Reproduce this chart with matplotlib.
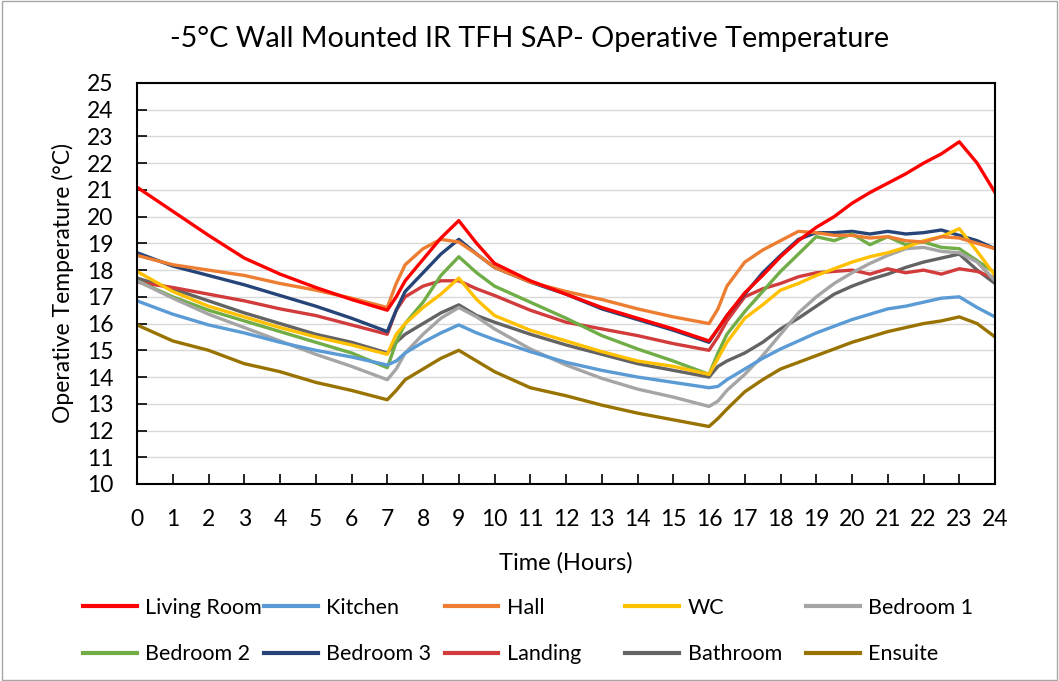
import matplotlib
matplotlib.use("Agg")
import matplotlib.pyplot as plt
from matplotlib.lines import Line2D
from matplotlib.patches import Rectangle

hours = [0, 1, 2, 3, 4, 5, 6, 7, 7.25, 7.5, 8, 8.5, 9, 9.5, 10, 11, 12, 13, 14, 15,
         16, 16.25, 16.5, 17, 17.5, 18, 18.5, 19, 19.5, 20, 20.5, 21, 21.5, 22, 22.5,
         23, 23.5, 24]

living_room = [21.1, 20.2, 19.3, 18.45, 17.85, 17.35, 16.9, 16.5, 17.0, 17.6, 18.4, 19.2,
               19.85, 19.0, 18.25, 17.6, 17.1, 16.6, 16.2, 15.8, 15.35, 15.8, 16.3, 17.15,
               17.8, 18.5, 19.1, 19.6, 20.0, 20.5, 20.9, 21.25, 21.6, 22.0, 22.35, 22.8,
               22.0, 20.9]
kitchen = [16.85, 16.35, 15.95, 15.65, 15.3, 15.0, 14.75, 14.45, 14.6, 14.9, 15.3, 15.65,
           15.95, 15.65, 15.4, 14.95, 14.55, 14.25, 14.0, 13.8, 13.6, 13.65, 13.9, 14.3,
           14.7, 15.05, 15.35, 15.65, 15.9, 16.15, 16.35, 16.55, 16.65, 16.8, 16.95, 17.0,
           16.6, 16.25]
hall = [18.55, 18.2, 18.0, 17.8, 17.5, 17.25, 16.95, 16.6, 17.5, 18.2, 18.8, 19.15,
        19.05, 18.6, 18.1, 17.55, 17.2, 16.9, 16.55, 16.25, 16.0, 16.55, 17.4, 18.3,
        18.75, 19.1, 19.45, 19.4, 19.3, 19.3, 19.2, 19.25, 19.1, 19.05, 19.25, 19.2,
        19.0, 18.8]
wc = [17.95, 17.2, 16.65, 16.25, 15.85, 15.5, 15.2, 14.85, 15.6, 16.0, 16.6, 17.1,
      17.7, 16.9, 16.3, 15.75, 15.35, 14.95, 14.6, 14.4, 14.1, 14.7, 15.3, 16.2,
      16.7, 17.25, 17.5, 17.8, 18.05, 18.3, 18.5, 18.65, 18.85, 19.1, 19.25, 19.55,
      18.7, 17.8]
bedroom_1 = [17.6, 16.95, 16.35, 15.85, 15.35, 14.85, 14.4, 13.9, 14.3, 14.9, 15.6, 16.2,
             16.6, 16.25, 15.8, 15.05, 14.45, 13.95, 13.55, 13.25, 12.9, 13.1, 13.5, 14.1,
             14.8, 15.6, 16.4, 17.0, 17.5, 17.9, 18.25, 18.55, 18.8, 18.85, 18.7, 18.65,
             18.3, 17.6]
bedroom_2 = [17.6, 17.0, 16.5, 16.1, 15.7, 15.3, 14.9, 14.35, 15.3, 16.0, 16.8, 17.8,
             18.5, 17.9, 17.4, 16.8, 16.2, 15.55, 15.05, 14.6, 14.1, 14.9, 15.6, 16.45,
             17.2, 17.95, 18.6, 19.25, 19.1, 19.35, 18.95, 19.25, 18.95, 19.05, 18.85, 18.8,
             18.35, 17.9]
bedroom_3 = [18.65, 18.15, 17.8, 17.45, 17.05, 16.65, 16.2, 15.7, 16.5, 17.2, 17.9, 18.6,
             19.15, 18.6, 18.1, 17.55, 17.1, 16.55, 16.15, 15.75, 15.3, 15.8, 16.3, 17.1,
             17.9, 18.55, 19.15, 19.4, 19.4, 19.45, 19.35, 19.45, 19.35, 19.4, 19.5, 19.3,
             19.1, 18.8]
landing = [17.55, 17.35, 17.1, 16.85, 16.55, 16.3, 15.95, 15.6, 16.5, 17.0, 17.4, 17.6,
           17.6, 17.3, 17.05, 16.5, 16.05, 15.8, 15.55, 15.25, 15.0, 15.5, 16.1, 17.0,
           17.3, 17.5, 17.75, 17.9, 17.95, 18.0, 17.85, 18.05, 17.9, 18.0, 17.85, 18.05,
           17.95, 17.7]
bathroom = [17.7, 17.3, 16.85, 16.4, 16.0, 15.6, 15.3, 14.9, 15.3, 15.6, 16.0, 16.4,
            16.7, 16.3, 16.05, 15.6, 15.2, 14.85, 14.5, 14.25, 14.0, 14.4, 14.6, 14.9,
            15.3, 15.8, 16.2, 16.65, 17.1, 17.4, 17.65, 17.85, 18.1, 18.3, 18.45, 18.6,
            18.0, 17.5]
ensuite = [15.95, 15.35, 15.0, 14.5, 14.2, 13.8, 13.5, 13.15, 13.5, 13.9, 14.3, 14.7,
           15.0, 14.6, 14.2, 13.6, 13.3, 12.95, 12.65, 12.4, 12.15, 12.45, 12.8, 13.45,
           13.9, 14.3, 14.55, 14.8, 15.05, 15.3, 15.5, 15.7, 15.85, 16.0, 16.1, 16.25,
           16.0, 15.5]

names = ["Living Room", "Kitchen", "Hall", "WC", "Bedroom 1",
         "Bedroom 2", "Bedroom 3", "Landing", "Bathroom", "Ensuite"]
series = [living_room, kitchen, hall, wc, bedroom_1,
          bedroom_2, bedroom_3, landing, bathroom, ensuite]
colors = ["#FF0000", "#5B9BD5", "#ED7D31", "#FFC000", "#A5A5A5",
          "#70AD47", "#264478", "#D13B3B", "#636363", "#997300"]

plt.rcParams["font.family"] = ["Lato", "DejaVu Sans"]

fig = plt.figure(figsize=(10.59, 6.81), dpi=100)
ax = fig.add_axes([0.1294, 0.2893, 0.8102, 0.5889])

# draw in reverse so living room ends up on top
for name, vals, col in reversed(list(zip(names, series, colors))):
    ax.plot(hours, vals, color=col, linewidth=2.4, label=name, solid_joinstyle="round")

ax.set_xlim(0, 24)
ax.set_ylim(10, 25)
ax.set_xticks(range(0, 25))
ax.set_yticks(range(10, 26))
ax.tick_params(axis="both", direction="in", labelsize=16.5, length=7, width=1.2)
ax.tick_params(axis="x", pad=18)
ax.tick_params(axis="y", pad=17)
ax.yaxis.grid(True, color="#D9D9D9", linewidth=1)
ax.set_axisbelow(True)
for sp in ax.spines.values():
    sp.set_linewidth(1.5)
    sp.set_color("black")

ax.set_xlabel("Time (Hours)", fontsize=17, labelpad=16)
ax.set_ylabel("Operative Temperature (°C)", fontsize=16.5, labelpad=9)
fig.text(0.5, 0.942, "-5°C Wall Mounted IR TFH SAP- Operative Temperature",
         ha="center", va="center", fontsize=20.7)

handles = [Line2D([], [], color=c, linewidth=3) for c in colors]
for i in range(5):
    leg = fig.legend([handles[i], handles[i + 5]], [names[i], names[i + 5]],
                     loc="upper left", bbox_to_anchor=((83 + 180.75 * i) / 1059, 0.122),
                     frameon=False, fontsize=15.5, handlelength=2.5, handletextpad=0.4,
                     labelspacing=1.22, borderpad=0, borderaxespad=0)

fig.patches.append(Rectangle((0.002, 0.002), 0.996, 0.996, transform=fig.transFigure,
                             fill=False, edgecolor="#A6A6A6", linewidth=1))

fig.savefig("out.png", dpi=100)
